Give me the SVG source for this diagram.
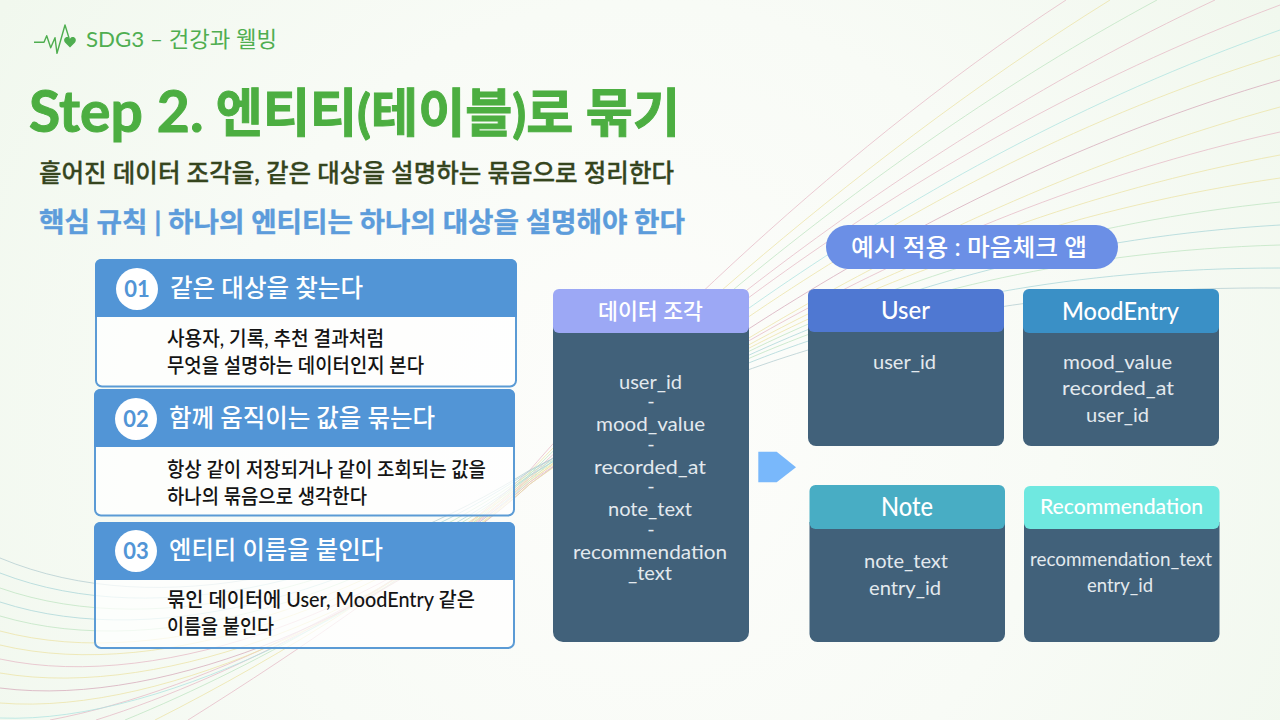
<svg xmlns="http://www.w3.org/2000/svg" width="1280" height="720" viewBox="0 0 1280 720">
<defs>
<radialGradient id="bg" gradientUnits="userSpaceOnUse" cx="640" cy="420" r="760">
<stop offset="0" stop-color="#fdfdfb"/><stop offset="0.55" stop-color="#f8fbf6"/><stop offset="1" stop-color="#f1f8ee"/>
</radialGradient>
</defs>
<style>
text{font-family:"Lato","Noto Sans CJK KR",sans-serif}
.w{fill:none;stroke-width:1;opacity:.75}
.pk{stroke:#e6b9c6}.ye{stroke:#ece3a6}.gr{stroke:#bfe4c2}.cy{stroke:#aee3e0}.ma{stroke:#d6a9ba}.tl{stroke:#a9d5d8}.gy{stroke:#b3ccd0}
.head{font-size:25px;font-weight:500;fill:#fff}
.num{font-size:22px;font-weight:700;fill:#5295d6;text-anchor:middle}
.body{font-size:20.5px;font-weight:500;fill:#141414}
.bar{fill:#5295d6}
.card{fill:#fff;fill-opacity:.72;stroke:#5b9bd5;stroke-width:2}
.panel{fill:#41617a}
.cap{font-size:24px;font-weight:500;fill:#fff}
.it{font-size:20px;font-weight:400;fill:#e3e9ee}
</style>
<rect width="1280" height="720" fill="url(#bg)"/>
<g id="waves">
<path class="w pk" d="M188 720C300 650 440 555 530 470C600 388 820 160 1066 0"/>
<path class="w ye" d="M155 720C280 657 435 562 530 472C603 394 835 171 1110 0"/>
<path class="w gr" d="M125 720C260 665 430 569 530 474C606 398 850 165 1157 0"/>
<path class="w pk" d="M96 720C240 675 425 576 530 476C609 402 865 164 1215 0"/>
<path class="w pk" d="M50 720C210 690 418 583 530 478C612 406 880 155 1280 5"/>
<path class="w cy" d="M0 718C170 725 410 590 530 480C614 410 885 169 1280 30"/>
<path class="w ye" d="M0 703C170 717 405 597 530 482C617 414 890 176 1280 55"/>
<path class="w ma" d="M0 688C170 710 400 604 530 484C620 419 900 190 1280 80"/>
<path class="w ye" d="M0 673C169 702 398 603 530 484C622 420 895 212 1280 107"/>
<path class="w pk" d="M0 659C168 695 395 600 530 482C624 419 890 218 1280 132"/>
<path class="w ye" d="M0 645C167 685 392 596 530 480C626 418 885 228 1280 155"/>
<path class="w ye" d="M0 631C166 675 388 592 530 478C628 417 880 236 1280 178"/>
<path class="w gr" d="M0 616C165 665 385 588 530 476C630 416 875 243 1280 202"/>
<path class="w tl" d="M0 602C163 655 382 584 530 475C632 417 870 249 1280 225"/>
<path class="w gr" d="M0 588C162 645 378 580 530 473C634 416 865 257 1280 245"/>
<path class="w tl" d="M0 573C160 635 375 575 530 471C637 415 858 268 1280 268"/>
<path class="w gy" d="M0 558C160 625 370 570 530 470C640 415 850 285 1280 288"/>
</g>
<g id="brand">
<polyline points="34,42.3 44,42.3 46.7,35.7 50.7,47.7 55,37.7 57,53.3 65,25 69,38" fill="none" stroke="#4fae50" stroke-width="1.4" stroke-linejoin="round"/>
<path d="M70 47.5L65 42.5C63 39.5 64.800 37 67.300 37C68.600 37 69.500 37.700 70 38.700C70.500 37.700 71.400 37 72.700 37C75.200 37 77 39.500 75 42.500Z" fill="#4fae50"/>
<text x="86" y="47" font-size="22" font-weight="400" fill="#4fae50" textLength="191" lengthAdjust="spacingAndGlyphs">SDG3 – 건강과 웰빙</text>
</g>
<g id="title">
<text x="29" y="132" font-size="52" font-weight="700" fill="#4cae41" stroke="#4cae41" stroke-width="1" textLength="651" lengthAdjust="spacingAndGlyphs"><tspan font-size="58">Step 2.</tspan> 엔티티(테이블)로 묶기</text>
<text x="39" y="182" font-size="25" font-weight="500" fill="#35451e" stroke="#35451e" stroke-width=".3" textLength="635" lengthAdjust="spacingAndGlyphs">흩어진 데이터 조각을, 같은 대상을 설명하는 묶음으로 정리한다</text>
<text x="39" y="232" font-size="27" font-weight="700" fill="#5c9cdb" stroke="#5c9cdb" stroke-width=".4" textLength="646" lengthAdjust="spacingAndGlyphs">핵심 규칙 | 하나의 엔티티는 하나의 대상을 설명해야 한다</text>
</g>
<g id="card-01">
<rect class="card" x="96" y="260" width="420" height="126.500" rx="6"/>
<path class="bar" d="M95 317V265a6 6 0 0 1 6-6H511a6 6 0 0 1 6 6V317Z"/>
<circle cx="137" cy="289" r="21" fill="#fff"/>
<text class="num" x="137" y="297">01</text>
<text class="head" x="170" y="297" textLength="193" lengthAdjust="spacingAndGlyphs">같은 대상을 찾는다</text>
<text class="body" x="167" y="346" textLength="217" lengthAdjust="spacingAndGlyphs">사용자, 기록, 추천 결과처럼</text>
<text class="body" x="167" y="373" textLength="257" lengthAdjust="spacingAndGlyphs">무엇을 설명하는 데이터인지 본다</text>
</g>
<g id="card-02">
<rect class="card" x="95" y="390" width="419" height="125.500" rx="6"/>
<path class="bar" d="M94 447V395a6 6 0 0 1 6-6H509a6 6 0 0 1 6 6V447Z"/>
<circle cx="136" cy="419" r="21" fill="#fff"/>
<text class="num" x="136" y="427">02</text>
<text class="head" x="169" y="427" textLength="266" lengthAdjust="spacingAndGlyphs">함께 움직이는 값을 묶는다</text>
<text class="body" x="167" y="477" textLength="319" lengthAdjust="spacingAndGlyphs">항상 같이 저장되거나 같이 조회되는 값을</text>
<text class="body" x="167" y="504" textLength="200" lengthAdjust="spacingAndGlyphs">하나의 묶음으로 생각한다</text>
</g>
<g id="card-03">
<rect class="card" x="95" y="523" width="419" height="125" rx="6"/>
<path class="bar" d="M94 580V528a6 6 0 0 1 6-6H509a6 6 0 0 1 6 6V580Z"/>
<circle cx="136" cy="551" r="21" fill="#fff"/>
<text class="num" x="136" y="559">03</text>
<text class="head" x="169" y="559" textLength="214" lengthAdjust="spacingAndGlyphs">엔티티 이름을 붙인다</text>
<text class="body" x="167" y="607" textLength="308" lengthAdjust="spacingAndGlyphs">묶인 데이터에 User, MoodEntry 같은</text>
<text class="body" x="167" y="634" textLength="107" lengthAdjust="spacingAndGlyphs">이름을 붙인다</text>
</g>
<g id="data-pieces">
<path class="panel" d="M553 325H749V632a10 10 0 0 1-10 10H563a10 10 0 0 1-10-10Z"/>
<path d="M553 295a6 6 0 0 1 6-6H743a6 6 0 0 1 6 6V327a6 6 0 0 1-6 6H559a6 6 0 0 1-6-6Z" fill="#9ca8f5"/>
<text class="cap" x="598" y="319" style="font-size:22px" textLength="105" lengthAdjust="spacingAndGlyphs">데이터 조각</text>
<text class="it" x="619" y="389" textLength="63" lengthAdjust="spacingAndGlyphs">user_id</text>
<text class="it" x="651" y="408" text-anchor="middle">-</text>
<text class="it" x="596" y="431" textLength="109" lengthAdjust="spacingAndGlyphs">mood_value</text>
<text class="it" x="651" y="451" text-anchor="middle">-</text>
<text class="it" x="594" y="474" textLength="112" lengthAdjust="spacingAndGlyphs">recorded_at</text>
<text class="it" x="651" y="493" text-anchor="middle">-</text>
<text class="it" x="608" y="516" textLength="84" lengthAdjust="spacingAndGlyphs">note_text</text>
<text class="it" x="651" y="536" text-anchor="middle">-</text>
<text class="it" x="573" y="559" textLength="154" lengthAdjust="spacingAndGlyphs">recommendation</text>
<text class="it" x="628" y="580" textLength="44" lengthAdjust="spacingAndGlyphs">_text</text>
</g>
<g id="connectors">
<polygon points="758.300,451.700 776.700,451.700 796,467.300 776.700,482.300 758.300,482.300" fill="#79b8fb"/>
</g>
<g id="example-pill">
<rect x="826" y="225" width="292" height="44" rx="22" fill="#6b8fe6"/>
<text x="851" y="256" font-size="24" font-weight="500" fill="#fff" textLength="236" lengthAdjust="spacingAndGlyphs">예시 적용 : 마음체크 앱</text>
</g>
<g id="user">
<path class="panel" d="M808 325H1004V438a8 8 0 0 1-8 8H816a8 8 0 0 1-8-8Z"/>
<path d="M808 295a6 6 0 0 1 6-6H998a6 6 0 0 1 6 6V326a6 6 0 0 1-6 6H814a6 6 0 0 1-6-6Z" fill="#4f78d2"/>
<text class="cap" x="881" y="319" textLength="49" lengthAdjust="spacingAndGlyphs">User</text>
<text class="it" x="873" y="369" textLength="63" lengthAdjust="spacingAndGlyphs">user_id</text>
</g>
<g id="moodentry">
<path class="panel" d="M1023 325H1219V438a8 8 0 0 1-8 8H1031a8 8 0 0 1-8-8Z"/>
<path d="M1023 295a6 6 0 0 1 6-6H1213a6 6 0 0 1 6 6V327a6 6 0 0 1-6 6H1029a6 6 0 0 1-6-6Z" fill="#3a90c6"/>
<text class="cap" x="1062" y="320" textLength="117" lengthAdjust="spacingAndGlyphs">MoodEntry</text>
<text class="it" x="1063" y="369" textLength="109" lengthAdjust="spacingAndGlyphs">mood_value</text>
<text class="it" x="1062" y="395" textLength="112" lengthAdjust="spacingAndGlyphs">recorded_at</text>
<text class="it" x="1086" y="422" textLength="63" lengthAdjust="spacingAndGlyphs">user_id</text>
</g>
<g id="note">
<path class="panel" d="M809.500 522H1005V634a8 8 0 0 1-8 8H817.500a8 8 0 0 1-8-8Z"/>
<path d="M809.500 491a6 6 0 0 1 6-6H999a6 6 0 0 1 6 6V523a6 6 0 0 1-6 6H815.500a6 6 0 0 1-6-6Z" fill="#48adc4"/>
<text class="cap" x="881" y="516" style="font-size:26px" textLength="52" lengthAdjust="spacingAndGlyphs">Note</text>
<text class="it" x="864" y="568" textLength="84" lengthAdjust="spacingAndGlyphs">note_text</text>
<text class="it" x="869" y="595" textLength="72" lengthAdjust="spacingAndGlyphs">entry_id</text>
</g>
<g id="recommendation">
<path class="panel" d="M1024 522H1219.500V634a8 8 0 0 1-8 8H1032a8 8 0 0 1-8-8Z"/>
<path d="M1024 492a6 6 0 0 1 6-6H1213.500a6 6 0 0 1 6 6V523a6 6 0 0 1-6 6H1030a6 6 0 0 1-6-6Z" fill="#6fe8e0"/>
<text class="cap" x="1040" y="514" style="font-size:22px" textLength="163" lengthAdjust="spacingAndGlyphs">Recommendation</text>
<text class="it" x="1030" y="566" textLength="182" lengthAdjust="spacingAndGlyphs">recommendation_text</text>
<text class="it" x="1087" y="592" textLength="66" lengthAdjust="spacingAndGlyphs">entry_id</text>
</g>
</svg>
